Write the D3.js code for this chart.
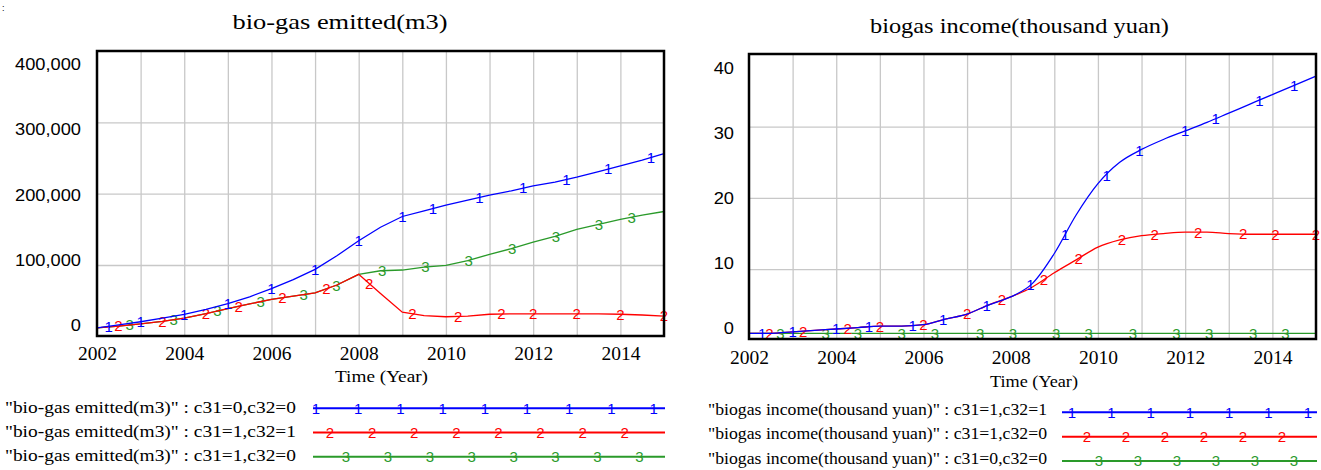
<!DOCTYPE html>
<html><head><meta charset="utf-8">
<script src="https://cdn.jsdelivr.net/npm/d3@7"></script>
<style>body{margin:0;background:#fff}svg{display:block}</style>
</head><body><svg id="c" width="1321" height="470"></svg>
<script>
// ---------------- DATA ----------------
const years = [2002,2002.5,2003,2003.5,2004,2004.5,2005,2005.5,2006,2006.5,2007,2007.5,2008,2008.5,2009,2009.5,2010,2010.5,2011,2011.5,2012,2012.5,2013,2013.5,2014,2014.5,2015];
const gridYears = [2003,2004,2005,2006,2007,2008,2009,2010,2011,2012,2013,2014];
const xTickYears = [2002,2004,2006,2008,2010,2012,2014];

// Chart 1: bio-gas emitted (m3)
const emitTitle = "bio-gas emitted(m3)";
const emitTicks = [0,100000,200000,300000,400000];
const emitNames = ['"bio-gas emitted(m3)" : c31=0,c32=0','"bio-gas emitted(m3)" : c31=1,c32=1','"bio-gas emitted(m3)" : c31=1,c32=0'];
const emit1 = [12000,16000,20500,25500,31000,38000,46000,55500,67000,79500,94000,113000,134000,153000,168000,176000,184000,191000,198000,204000,211000,216000,223000,231000,239000,247000,256000];
const emit2 = [12000,14500,17500,21000,25500,32000,39000,45500,52000,56500,61000,72000,87000,60000,34000,29000,27500,28500,31000,31500,31500,31500,31500,31500,31000,30000,28500];
const emit3 = [12000,14500,17500,21000,25500,32000,39000,45500,52000,56500,61000,72000,87000,92000,93000,97000,99500,106000,115000,123000,132000,140000,150000,157000,164000,170000,175000];
const emitMarks1 = [2002.27,2003.0,2004.0,2005.0,2006.0,2007.0,2008.0,2009.0,2009.7,2010.77,2011.77,2012.76,2013.72,2014.7];
const emitMarks2 = [2002.49,2003.5,2004.5,2005.25,2006.25,2007.26,2008.24,2009.23,2010.28,2011.27,2012.0,2013.0,2014.0,2015.0];
const emitMarks3 = [2002.75,2003.76,2004.76,2005.75,2006.74,2007.49,2008.54,2009.53,2010.52,2011.52,2012.52,2013.51,2014.26];

// Chart 2: biogas income (thousand yuan)
const incTitle = "biogas income(thousand yuan)";
const incTicks = [0,10,20,30,40];
const incNames = ['"biogas income(thousand yuan)" : c31=1,c32=1','"biogas income(thousand yuan)" : c31=1,c32=0','"biogas income(thousand yuan)" : c31=0,c32=0'];
const inc1 = [1.0,1.0,1.2,1.4,1.6,1.8,2.0,2.0,2.2,3.0,3.7,5.0,6.1,8.0,12.2,17.6,22.0,25.0,26.8,28.2,29.4,30.6,31.9,33.2,34.5,35.8,37.1];
const inc2 = [1.0,1.0,1.2,1.4,1.6,1.8,2.0,2.0,2.2,3.0,3.7,5.0,6.1,7.5,9.5,11.3,13.1,14.1,14.7,15.0,15.2,15.2,15.0,14.9,14.9,14.9,14.9];
const inc3 = [1.0,1.0,1.0,1.0,1.0,1.0,1.0,1.0,1.0,1.0,1.0,1.0,1.0,1.0,1.0,1.0,1.0,1.0,1.0,1.0,1.0,1.0,1.0,1.0,1.0,1.0,1.0];
const incMarks1 = [2002.3,2003.0,2004.0,2004.75,2005.75,2006.45,2007.45,2008.45,2009.25,2010.2,2010.95,2012.0,2012.7,2013.7,2014.5];
const incMarks2 = [2002.47,2003.24,2004.26,2005.0,2006.0,2007.0,2007.8,2008.76,2009.56,2010.55,2011.3,2012.3,2013.33,2014.07,2015.0];
const incMarks3 = [2002.72,2003.76,2004.5,2005.5,2006.26,2007.3,2008.05,2009.04,2009.79,2010.8,2011.8,2012.55,2013.56,2014.3];

const colors = ["#0000ff","#ff0000","#2a9a2a"];
const markerLabels = ["1","2","3"];

// ---------------- DRAWING ----------------
const svg = d3.select("#c");
svg.append("rect").attr("width",1321).attr("height",470).attr("fill","#fff");
svg.append("text").attr("x",2).attr("y",11).attr("font-size",9).attr("font-family","Liberation Sans").text(":");

const SERIF = "'Liberation Serif','Times New Roman',serif";
const SANS = "'Liberation Sans',Arial,sans-serif";
const MARK = 15;

function txt(g, x, y, s, o) {
  const t = g.append("text").attr("x",x).attr("y",y).text(s)
    .attr("font-family",o.family||SERIF).attr("font-size",o.size)
    .attr("text-anchor",o.anchor||"start").attr("fill",o.fill||"#000");
  if (o.width) t.attr("textLength",o.width).attr("lengthAdjust","spacingAndGlyphs");
  return t;
}
function interp(xs, ys, v) {
  const i = Math.min(Math.max(d3.bisectRight(xs, v) - 1, 0), xs.length - 2);
  const t = (v - xs[i]) / (xs[i+1] - xs[i]);
  return ys[i] + t * (ys[i+1] - ys[i]);
}

function chart(o) {
  const g = svg.append("g");
  const x = d3.scaleLinear().domain([2002,2015]).range([o.left,o.right]);
  const y = d3.scaleLinear().domain([0,o.ticks[o.ticks.length-1]]).range([o.y0,o.y1]);
  const ly = d3.scaleLinear().domain([0,o.ticks[o.ticks.length-1]]).range(o.labelRange);

  // grid
  g.append("g").attr("transform",`translate(0,${o.bottom})`)
    .call(d3.axisBottom(x).tickValues(gridYears).tickSize(-(o.bottom-o.top)).tickFormat(""))
    .call(s=>{s.select(".domain").remove();s.selectAll("line").attr("stroke","#c8c8c8").attr("stroke-width",1.3);});
  g.append("g").attr("transform",`translate(${o.left},0)`)
    .call(d3.axisLeft(y).tickValues(o.ticks.slice(1,-1)).tickSize(-(o.right-o.left)).tickFormat(""))
    .call(s=>{s.select(".domain").remove();s.selectAll("line").attr("stroke","#c8c8c8").attr("stroke-width",1.3);});

  // series (drawn 3,2,1)
  const line = d3.line().x((d,i)=>x(years[i])).y(d=>y(d)).curve(o.curve);
  for (let k = o.series.length-1; k >= 0; k--) {
    g.append("path").attr("d",line(o.series[k])).attr("fill","none")
      .attr("stroke",colors[k]).attr("stroke-width",1.3);
    o.marks[k].forEach(m=>{
      g.append("text").attr("x",x(m)).attr("y",y(interp(years,o.series[k],m)))
        .attr("dy","0.36em").attr("text-anchor","middle").attr("font-family",SANS)
        .attr("font-size",MARK).attr("fill",colors[k]).text(markerLabels[k]);
    });
  }

  // frame
  g.append("rect").attr("x",o.left).attr("y",o.top).attr("width",o.right-o.left).attr("height",o.bottom-o.top)
    .attr("fill","none").attr("stroke","#000").attr("stroke-width",2.5);

  // x labels
  g.append("g").attr("transform",`translate(0,${o.xLabelTop})`)
    .call(d3.axisBottom(x).tickValues(xTickYears).tickSize(0).tickPadding(0).tickFormat(d3.format("d")))
    .call(s=>{s.select(".domain").remove();s.selectAll("text").attr("font-family",SERIF).attr("font-size",19.5).attr("fill","#000");});
  // y labels
  g.append("g").attr("transform",`translate(${o.labelRight},0)`)
    .call(d3.axisLeft(ly).tickValues(o.ticks).tickSize(0).tickPadding(0).tickFormat(o.fmt))
    .call(s=>{s.select(".domain").remove();
      s.selectAll("text").attr("font-family",SANS).attr("font-size",16).attr("fill","#000").attr("dy","0.36em")
       .each(function(){const L=this.getComputedTextLength();d3.select(this).attr("textLength",L*1.14).attr("lengthAdjust","spacingAndGlyphs");});});

  // titles
  txt(g, o.titleX, o.titleY, o.title, {size:22, anchor:"middle", width:o.titleW});
  txt(g, o.axisTitleX, o.axisTitleY, "Time (Year)", {size:17, anchor:"middle", width:o.axisTitleW});

  // legend
  o.names.forEach((n,k)=>{
    txt(g, o.legX, o.legBase[k], n, {size:17, width:o.legW});
    g.append("line").attr("x1",o.legLine[0]).attr("x2",o.legLine[1]).attr("y1",o.legLineY[k]).attr("y2",o.legLineY[k])
      .attr("stroke",colors[k]).attr("stroke-width",2);
    const lm = o.legMarks[k];
    d3.range(lm[2]).forEach(j=>{
      g.append("text").attr("x",lm[0]+j*lm[1]).attr("y",o.legLineY[k]).attr("dy","0.36em")
        .attr("text-anchor","middle").attr("font-family",SANS).attr("font-size",MARK)
        .attr("fill",colors[k]).text(markerLabels[k]);
    });
  });
}

chart({
  left:97, right:664, top:51, bottom:336, y0:336.4, y1:50.9, labelRange:[325,63.5], labelRight:81,
  ticks:emitTicks, fmt:d3.format(","), series:[emit1,emit2,emit3], marks:[emitMarks1,emitMarks2,emitMarks3],
  curve:d3.curveLinear, xLabelTop:346,
  title:emitTitle, titleX:340, titleY:28.5, titleW:215,
  axisTitleX:381.5, axisTitleY:381.5, axisTitleW:93,
  names:emitNames, legX:5, legBase:[413,437.2,461.4], legW:291, legLine:[313,665], legLineY:[408.3,432.4,456.7],
  legMarks:[[316,42.2,9],[330,42.1,8],[346,41.9,8]]
});
chart({
  left:749, right:1316, top:54, bottom:339, y0:340.4, y1:55.4, labelRange:[327.8,67.5], labelRight:734,
  ticks:incTicks, fmt:d3.format("d"), series:[inc1,inc2,inc3], marks:[incMarks1,incMarks2,incMarks3],
  curve:d3.curveMonotoneX, xLabelTop:350,
  title:incTitle, titleX:1019.5, titleY:32.5, titleW:299,
  axisTitleX:1034, axisTitleY:386.5, axisTitleW:88,
  names:incNames, legX:708, legBase:[414.5,439,463.5], legW:339, legLine:[1062,1317], legLineY:[412.3,436.7,461],
  legMarks:[[1072,39.3,7],[1087,39,6],[1099,39,6]]
});
</script></body></html>
